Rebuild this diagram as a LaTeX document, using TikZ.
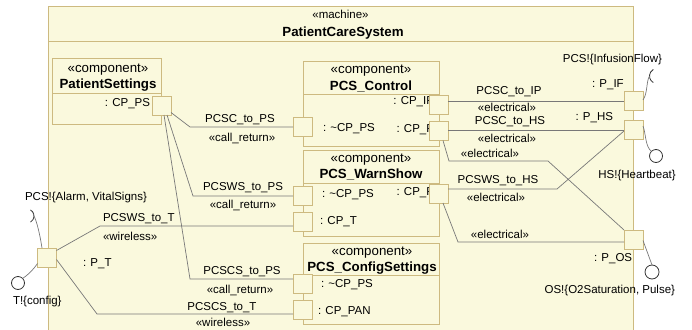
\documentclass[tikz,border=0pt]{standalone}
\usepackage{fontspec}
\setmainfont{Liberation Sans}
\usetikzlibrary{calc}
\definecolor{boxfill}{RGB}{250,249,221}
\definecolor{boxline}{RGB}{205,186,128}
\definecolor{wirec}{RGB}{120,120,120}
\begin{document}
\begin{tikzpicture}[x=1pt,y=-1pt,
  every node/.style={inner sep=0pt,outer sep=0pt},
  txt/.style={font=\fontsize{11.5}{13}\selectfont,anchor=base},
  hdr/.style={font=\fontsize{13.3}{15}\selectfont,anchor=base},
  bld/.style={font=\fontsize{13.3}{15}\selectfont\bfseries,anchor=base},
  comp/.style={draw=boxline,fill=boxfill,line width=0.9pt,anchor=north west},
  port/.style={draw=boxline,fill=boxfill,line width=0.9pt,minimum size=19pt},
  wire/.style={draw=wirec,line width=0.7pt},
  iface/.style={draw=black!80,line width=0.8pt},
]
\useasboundingbox (0,0) rectangle (692,329);
\clip (0,0) rectangle (692,329);

% enclosing machine frame
\node[comp,minimum width=585pt,minimum height=345pt] (frame) at (48,6) {};
\draw[boxline,line width=0.9pt] (48,41) -- (633,41);
\node[txt] (fstereo) at (340.5,19) {«machine»};
\node[bld] (fname) at (343,36.5) {PatientCareSystem};

% components
\node[comp,minimum width=109pt,minimum height=66pt] (ps) at (52,58) {};
\draw[boxline,line width=0.9pt] (52,93) -- (161,93);
\node[hdr] (psst) at (108,72.5) {«component»};
\node[bld] (psnm) at (108,88.8) {PatientSettings};
\node[txt,anchor=base east] (pslb) at (150,106.5) {: CP\_PS};

\node[comp,minimum width=136pt,minimum height=85pt] (ctl) at (303,61) {};
\draw[boxline,line width=0.9pt] (303,94) -- (439,94);
\node[hdr] (ctlst) at (371,73.5) {«component»};
\node[bld] (ctlnm) at (371,90.8) {PCS\_Control};
\node[txt,anchor=base east] (ctllb1) at (434,104) {: CP\_IP};
\node[txt,anchor=base east] (ctllb2) at (434,132) {: CP\_P};
\node[txt,anchor=base west] (ctllb3) at (323,131) {: \textasciitilde CP\_PS};

\node[comp,minimum width=136pt,minimum height=86pt] (ws) at (303,150) {};
\draw[boxline,line width=0.9pt] (303,183) -- (439,183);
\node[hdr] (wsst) at (371,162.5) {«component»};
\node[bld] (wsnm) at (371,178.8) {PCS\_WarnShow};
\node[txt,anchor=base west] (wslb1) at (322,197) {: \textasciitilde CP\_PS};
\node[txt,anchor=base west] (wslb2) at (320,224) {: CP\_T};
\node[txt,anchor=base east] (wslb3) at (434,195) {: CP\_P};

\node[comp,minimum width=136pt,minimum height=81pt] (cs) at (303,243) {};
\draw[boxline,line width=0.9pt] (303,275) -- (439,275);
\node[hdr] (csst) at (372,255.5) {«component»};
\node[bld] (csnm) at (372,271.8) {PCS\_ConfigSettings};
\node[txt,anchor=base west] (cslb1) at (321,287) {: \textasciitilde CP\_PS};
\node[txt,anchor=base west] (cslb2) at (318,314) {: CP\_PAN};

% boundary port labels
\node[txt,anchor=base west] (piflb) at (592,87) {: P\_IF};
\node[txt,anchor=base east] (phslb) at (613,120) {: P\_HS};
\begin{scope}
  \clip (48,0) rectangle (632,329);
  \node[txt,anchor=base west] (poslb) at (594,261) {: P\_OS};
\end{scope}
\node[txt,anchor=base west] (ptlb) at (83,266) {: P\_T};

% ports
\node[port] (pscp) at (161.5,105.5) {};
\node[port] (cncp) at (302.5,127) {};
\node[port] (cpip) at (438.5,105) {};
\node[port] (cpp) at (438.5,131) {};
\node[port] (wncp) at (302.5,196) {};
\node[port] (wcpt) at (302.5,221.5) {};
\node[port] (wcpp) at (438.5,193.5) {};
\node[port] (sncp) at (302.5,284) {};
\node[port] (span) at (302.5,309.5) {};
\node[port] (pif) at (633.5,101) {};
\node[port] (phs) at (633.5,130) {};
\node[port] (pos) at (633.5,239.5) {};
\node[port] (pt) at (47,257.5) {};

% connectors
\draw[wire] ([yshift=-7pt]pscp.east) -- (190,127) -- (cncp.west);
\draw[wire] ([xshift=5.5pt]pscp.south) -- (193,196) -- (wncp.west);
\draw[wire] ([xshift=2.5pt]pscp.south) -- (190,279) -- ([yshift=5pt]sncp.west);
\draw[wire] ([yshift=7pt]pt.east) -- (100,226) -- ([yshift=-4.5pt]wcpt.west);
\draw[wire] ([yshift=-2pt]pt.east) -- (97,314) -- ([yshift=-4.5pt]span.west);
\draw[wire] (cpip.east |- pif.west) -- (pif.west);
\draw[wire] (cpp.east |- phs.west) -- (phs.west);
\draw[wire] ([xshift=4.5pt]cpp.south) -- (449,161) -- (548,161) -- (pos.north west);
\draw[wire] ([yshift=4.5pt]wcpp.east) -- (557,189) -- ([yshift=-1pt]phs.west);
\draw[wire] ([xshift=4.5pt]wcpp.south) -- (458,242) -- ([yshift=-2.5pt]pos.west);

% connector labels
\node[txt] (l1) at (240,122) {PCSC\_to\_PS};
\node[txt] (l1s) at (242,141) {«call\_return»};
\node[txt] (l2) at (243,190) {PCSWS\_to\_PS};
\node[txt] (l2s) at (243,208) {«call\_return»};
\node[txt] (l3) at (242,274) {PCSCS\_to\_PS};
\node[txt] (l3s) at (240,293) {«call\_return»};
\node[txt] (l4) at (222,310) {PCSCS\_to\_T};
\node[txt] (l4s) at (223,326) {«wireless»};
\node[txt,anchor=base west] (l5) at (103,221) {PCSWS\_to\_T};
\node[txt,anchor=base west] (l5s) at (103,240) {«wireless»};
\node[txt] (l6) at (509,94) {PCSC\_to\_IP};
\node[txt] (l6s) at (507,111) {«electrical»};
\node[txt] (l7) at (510,124) {PCSC\_to\_HS};
\node[txt] (l7s) at (507,142) {«electrical»};
\node[txt] (l8s) at (490,157) {«electrical»};
\node[txt] (l9) at (498,183) {PCSWS\_to\_HS};
\node[txt] (l9s) at (496,201) {«electrical»};
\node[txt] (l10s) at (500,238) {«electrical»};

% interfaces outside the frame
\coordinate (ifc) at (657,76);
\draw[iface] ($(ifc)+(120:7.5)$) arc[start angle=120,end angle=240,radius=7.5];
\draw[wire] ([yshift=1pt]pif.east) .. controls (648,92) and (646,82) .. ($(ifc)+(180:7.5)$);
\node[circle,iface,minimum size=13pt] (hsc) at (656,156) {};
\draw[wire] ([yshift=4pt]phs.east) .. controls (646,134) and (645,146) .. (hsc.north west);
\node[circle,iface,minimum size=14pt] (osc) at (652,272) {};
\draw[wire] ([yshift=-1pt]pos.east) -- (osc.north);
\coordinate (tac) at (27,216);
\draw[iface] ($(tac)+(-60:7)$) arc[start angle=-60,end angle=60,radius=7];
\draw[wire] ([xshift=-5pt]pt.north) .. controls (40,235) and (37,222) .. ($(tac)+(0:7)$);
\node[circle,iface,minimum size=13pt] (tc) at (18,283) {};
\draw[wire] ([yshift=-6pt]pt.west) .. controls (33,270) and (28,275) .. (tc.north east);

\node[txt,anchor=base east] (ifl) at (662,63) {PCS!\{InfusionFlow\}};
\node[txt] (hsl) at (637,178) {HS!\{Heartbeat\}};
\node[txt,anchor=base east] (osl) at (675,293) {OS!\{O2Saturation, Pulse\}};
\node[txt] (tal) at (86,200) {PCS!\{Alarm, VitalSigns\}};
\node[txt,anchor=base west] (tcl) at (13,304) {T!\{config\}};
\end{tikzpicture}
\end{document}
